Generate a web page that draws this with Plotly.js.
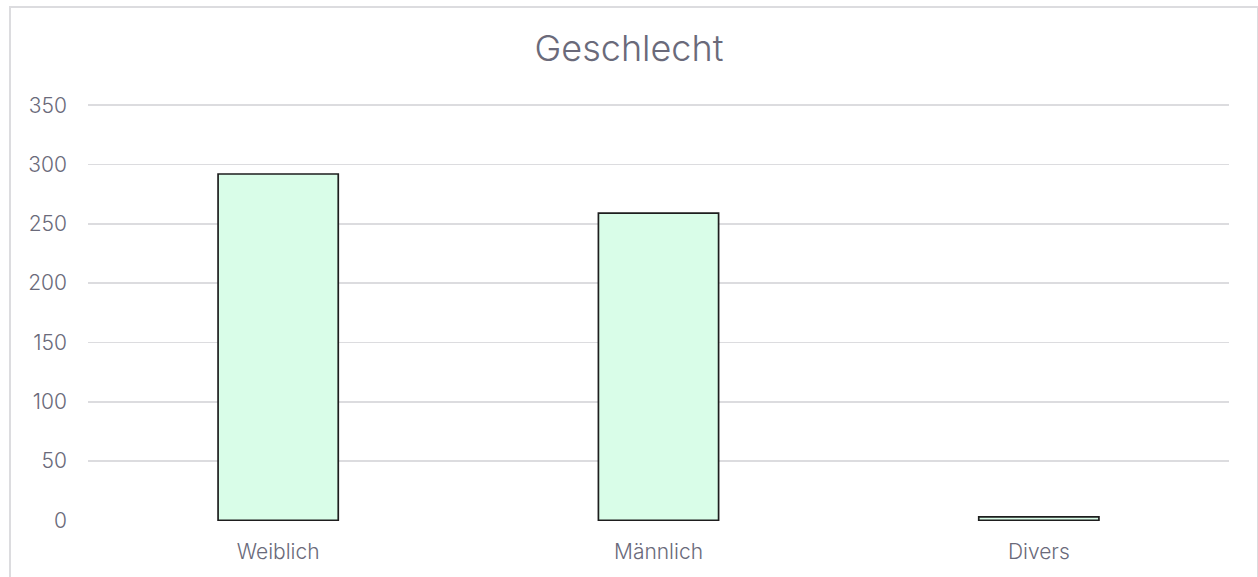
<!DOCTYPE html>
<html><head><meta charset="utf-8">
<script src="https://cdn.plot.ly/plotly-3.0.1.min.js"></script>
<style>
html,body{margin:0;padding:0;background:#fff;overflow:hidden;}
#chart{position:absolute;left:0;top:0;width:1258px;height:577px;}
#frame{position:absolute;left:9px;top:6px;width:1246px;height:620px;border:2px solid #dcdcdf;pointer-events:none;}
</style></head>
<body>
<div id="chart"></div>
<div id="frame"></div>
<script>
const categories = ["Weiblich", "Männlich", "Divers"];
const counts = [292, 259, 3];
const yTicks = [0, 50, 100, 150, 200, 250, 300, 350];
const textColor = "#6a6a7a";
const fontFamily = "Inter, 'Noto Sans', sans-serif";

Plotly.newPlot("chart", [{
  type: "bar",
  x: categories,
  y: counts,
  marker: {color: "#d9fde8", line: {color: "#1e1e1e", width: 1.7}},
  hoverinfo: "x+y"
}], {
  width: 1258, height: 577,
  margin: {l: 88, r: 29, t: 104.3, b: 55.9},
  paper_bgcolor: "rgba(0,0,0,0)",
  plot_bgcolor: "#ffffff",
  bargap: 0.684,
  showlegend: false,
  title: {text: "Geschlecht", x: 0.5, xanchor: "center", y: 0.916, yanchor: "middle",
          font: {family: fontFamily, size: 36, color: textColor, weight: 300}},
  font: {family: fontFamily, color: textColor},
  xaxis: {showgrid: false, zeroline: false, showline: false, ticks: "",
          tickfont: {family: fontFamily, size: 21, color: textColor, weight: 300}, ticklabelstandoff: 16},
  yaxis: {range: [-0.5, 351], tickvals: yTicks, ticktext: yTicks.map(String),
          showgrid: true, gridcolor: "#dcdcdf", gridwidth: 1.5,
          zeroline: false, showline: false, ticks: "",
          tickfont: {family: fontFamily, size: 21, color: textColor, weight: 300}, ticklabelstandoff: 20}
}, {displayModeBar: false, staticPlot: true});
</script>
</body></html>
